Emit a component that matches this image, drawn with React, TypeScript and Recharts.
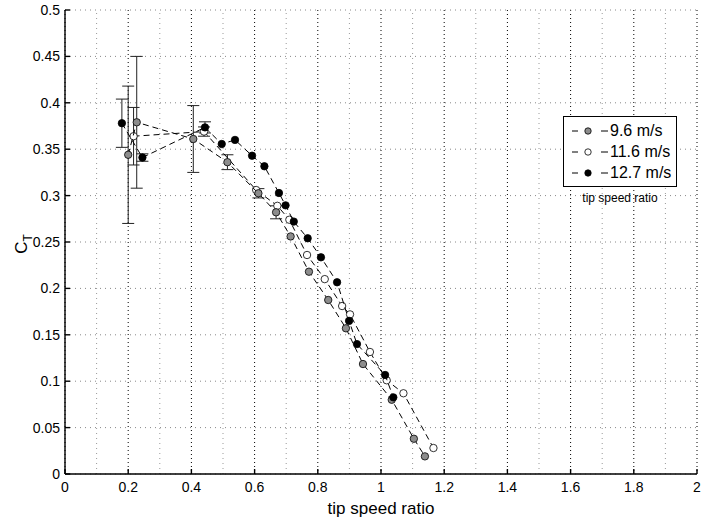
import React from "react";
import {
  ScatterChart,
  Scatter,
  XAxis,
  YAxis,
  CartesianGrid,
  ReferenceLine,
  ErrorBar,
  Legend,
} from "recharts";

// tip speed ratio / C_T
const x96 = [0.2, 0.227, 0.406, 0.514, 0.612, 0.668, 0.714, 0.772, 0.833, 0.889, 0.943, 1.034, 1.104, 1.139];
const ct96 = [0.344, 0.379, 0.361, 0.336, 0.3025, 0.282, 0.256, 0.218, 0.1875, 0.157, 0.1185, 0.08, 0.038, 0.019];
const err96 = [0.074, 0.071, 0.036, 0.008, 0.005, 0.007, 0, 0, 0, 0, 0, 0, 0, 0];

const x116 = [0.217, 0.44, 0.605, 0.672, 0.71, 0.766, 0.822, 0.877, 0.902, 0.965, 1.018, 1.071, 1.166];
const ct116 = [0.364, 0.369, 0.306, 0.289, 0.274, 0.236, 0.21, 0.181, 0.172, 0.1315, 0.101, 0.087, 0.028];
const err116 = [0.031, 0.005, 0, 0, 0, 0, 0, 0, 0, 0, 0, 0, 0];

const x127 = [0.18, 0.245, 0.443, 0.496, 0.538, 0.592, 0.631, 0.677, 0.698, 0.724, 0.768, 0.81, 0.861, 0.899, 0.924, 1.013, 1.039];
const ct127 = [0.378, 0.341, 0.3735, 0.3556, 0.36, 0.343, 0.3316, 0.3028, 0.2895, 0.272, 0.254, 0.2335, 0.2066, 0.165, 0.14, 0.1067, 0.0826];
const err127 = [0.026, 0.004, 0.006, 0, 0, 0, 0, 0, 0, 0, 0, 0, 0, 0, 0, 0, 0];

const xTicks = [0, 0.2, 0.4, 0.6, 0.8, 1, 1.2, 1.4, 1.6, 1.8, 2];
const xMinor = [0.1, 0.3, 0.5, 0.7, 0.9, 1.1, 1.3, 1.5, 1.7, 1.9];
const yTicks = [0, 0.05, 0.1, 0.15, 0.2, 0.25, 0.3, 0.35, 0.4, 0.45, 0.5];

const toRows = (xs: number[], ys: number[], es: number[]) =>
  xs.map((x, i) => ({ x, y: ys[i], err: es[i] }));

const SERIES = [
  { name: "11.6 m/s", fill: "#ffffff", data: toRows(x116, ct116, err116) },
  { name: "9.6 m/s", fill: "#8c8c8c", data: toRows(x96, ct96, err96) },
  { name: "12.7 m/s", fill: "#000000", data: toRows(x127, ct127, err127) },
];
const LEGEND_ORDER = ["9.6 m/s", "11.6 m/s", "12.7 m/s"];

const FONT = "'Liberation Sans', Arial, Helvetica, sans-serif";

const dot = (fill: string) => (props: any) => {
  const { cx, cy } = props;
  if (cx == null || cy == null) return <g />;
  return <circle cx={cx} cy={cy} r={3.7} fill={fill} stroke="#000" strokeWidth={0.8} />;
};

function LegendBox() {
  return (
    <div style={{ fontFamily: FONT }}>
      <div
        style={{
          border: "1px solid #000",
          background: "#fff",
          width: 112,
          padding: "3px 0",
        }}
      >
        {LEGEND_ORDER.map((n) => {
          const s = SERIES.find((d) => d.name === n)!;
          return (
            <div key={n} style={{ display: "flex", alignItems: "center", height: 21 }}>
              <svg width={46} height={14}>
                <line x1={8} x2={14} y1={7} y2={7} stroke="#000" strokeWidth={1} />
                <circle cx={24} cy={7} r={3.2} fill={s.fill} stroke="#000" strokeWidth={0.8} />
                <line x1={37} x2={44} y1={7} y2={7} stroke="#000" strokeWidth={1} />
              </svg>
              <span style={{ fontSize: 16, color: "#000", lineHeight: "16px" }}>{n}</span>
            </div>
          );
        })}
      </div>
      <div style={{ fontSize: 12, textAlign: "center", width: 114, marginTop: 4, color: "#000" }}>
        tip speed ratio
      </div>
    </div>
  );
}

const tickStyle = { fontSize: 14, fill: "#000", fontFamily: FONT };
const blank = () => "";

export default function App() {
  return (
    <div style={{ position: "absolute", left: 0, top: 0, width: 704, height: 522, background: "#fff" }}>
      <ScatterChart width={704} height={522} margin={{ top: 10, right: 7, bottom: 0, left: 0 }}>
        <CartesianGrid
          stroke="#000"
          strokeDasharray="1 3"
          strokeWidth={1}
          horizontal={false}
        />
        <CartesianGrid stroke="#888" strokeDasharray="1 4" strokeWidth={1} vertical={false} />
        {xMinor.map((v) => (
          <ReferenceLine key={v} x={v} stroke="#999" strokeDasharray="1 4" strokeWidth={1} ifOverflow="visible" />
        ))}
        <XAxis
          type="number"
          dataKey="x"
          domain={[0, 2]}
          ticks={xTicks}
          allowDataOverflow
          height={48}
          tickSize={-5}
          tickMargin={13}
          stroke="#000"
          strokeWidth={1.4}
          tick={tickStyle}
          label={{
            value: "tip speed ratio",
            position: "insideBottom",
            offset: 8,
            style: { fontSize: 17, fill: "#000", fontFamily: FONT },
          }}
        />
        <XAxis
          xAxisId="top"
          orientation="top"
          type="number"
          domain={[0, 2]}
          ticks={xTicks}
          height={0}
          tickSize={-5}
          stroke="#000"
          strokeWidth={1.4}
          tickFormatter={blank}
        />
        <YAxis
          type="number"
          dataKey="y"
          domain={[0, 0.5]}
          ticks={yTicks}
          allowDataOverflow
          width={65}
          tickSize={-5}
          tickMargin={10}
          stroke="#000"
          strokeWidth={1.4}
          tick={tickStyle}
          label={{
            content: (p: any) => {
              const vb = p.viewBox || { x: 0, y: 10, height: 464 };
              const cy = vb.y + vb.height / 2 + 2;
              return (
                <text
                  x={0}
                  y={0}
                  transform={`translate(27, ${cy}) rotate(-90)`}
                  textAnchor="middle"
                  style={{ fontSize: 17, fontFamily: FONT, fill: "#000" }}
                >
                  C<tspan fontSize={12} dy={5}>T</tspan>
                </text>
              );
            },
          }}
        />
        <YAxis
          yAxisId="right"
          orientation="right"
          type="number"
          domain={[0, 0.5]}
          ticks={yTicks}
          width={0}
          tickSize={-5}
          stroke="#000"
          strokeWidth={1.4}
          tickFormatter={blank}
        />
        {SERIES.map((s) => (
          <Scatter
            key={s.name}
            name={s.name}
            data={s.data}
            fill={s.fill}
            line={{ stroke: "#000", strokeWidth: 1, strokeDasharray: "6 4" }}
            lineType="joint"
            shape={dot(s.fill)}
            isAnimationActive={false}
          >
            <ErrorBar dataKey="err" direction="y" width={6} stroke="#222" strokeWidth={1} isAnimationActive={false} />
          </Scatter>
        ))}
        <Legend
          layout="horizontal"
          verticalAlign="middle"
          align="center"
          content={() => <LegendBox />}
          wrapperStyle={{ left: 563, top: 116, width: 116 }}
        />
      </ScatterChart>
    </div>
  );
}
